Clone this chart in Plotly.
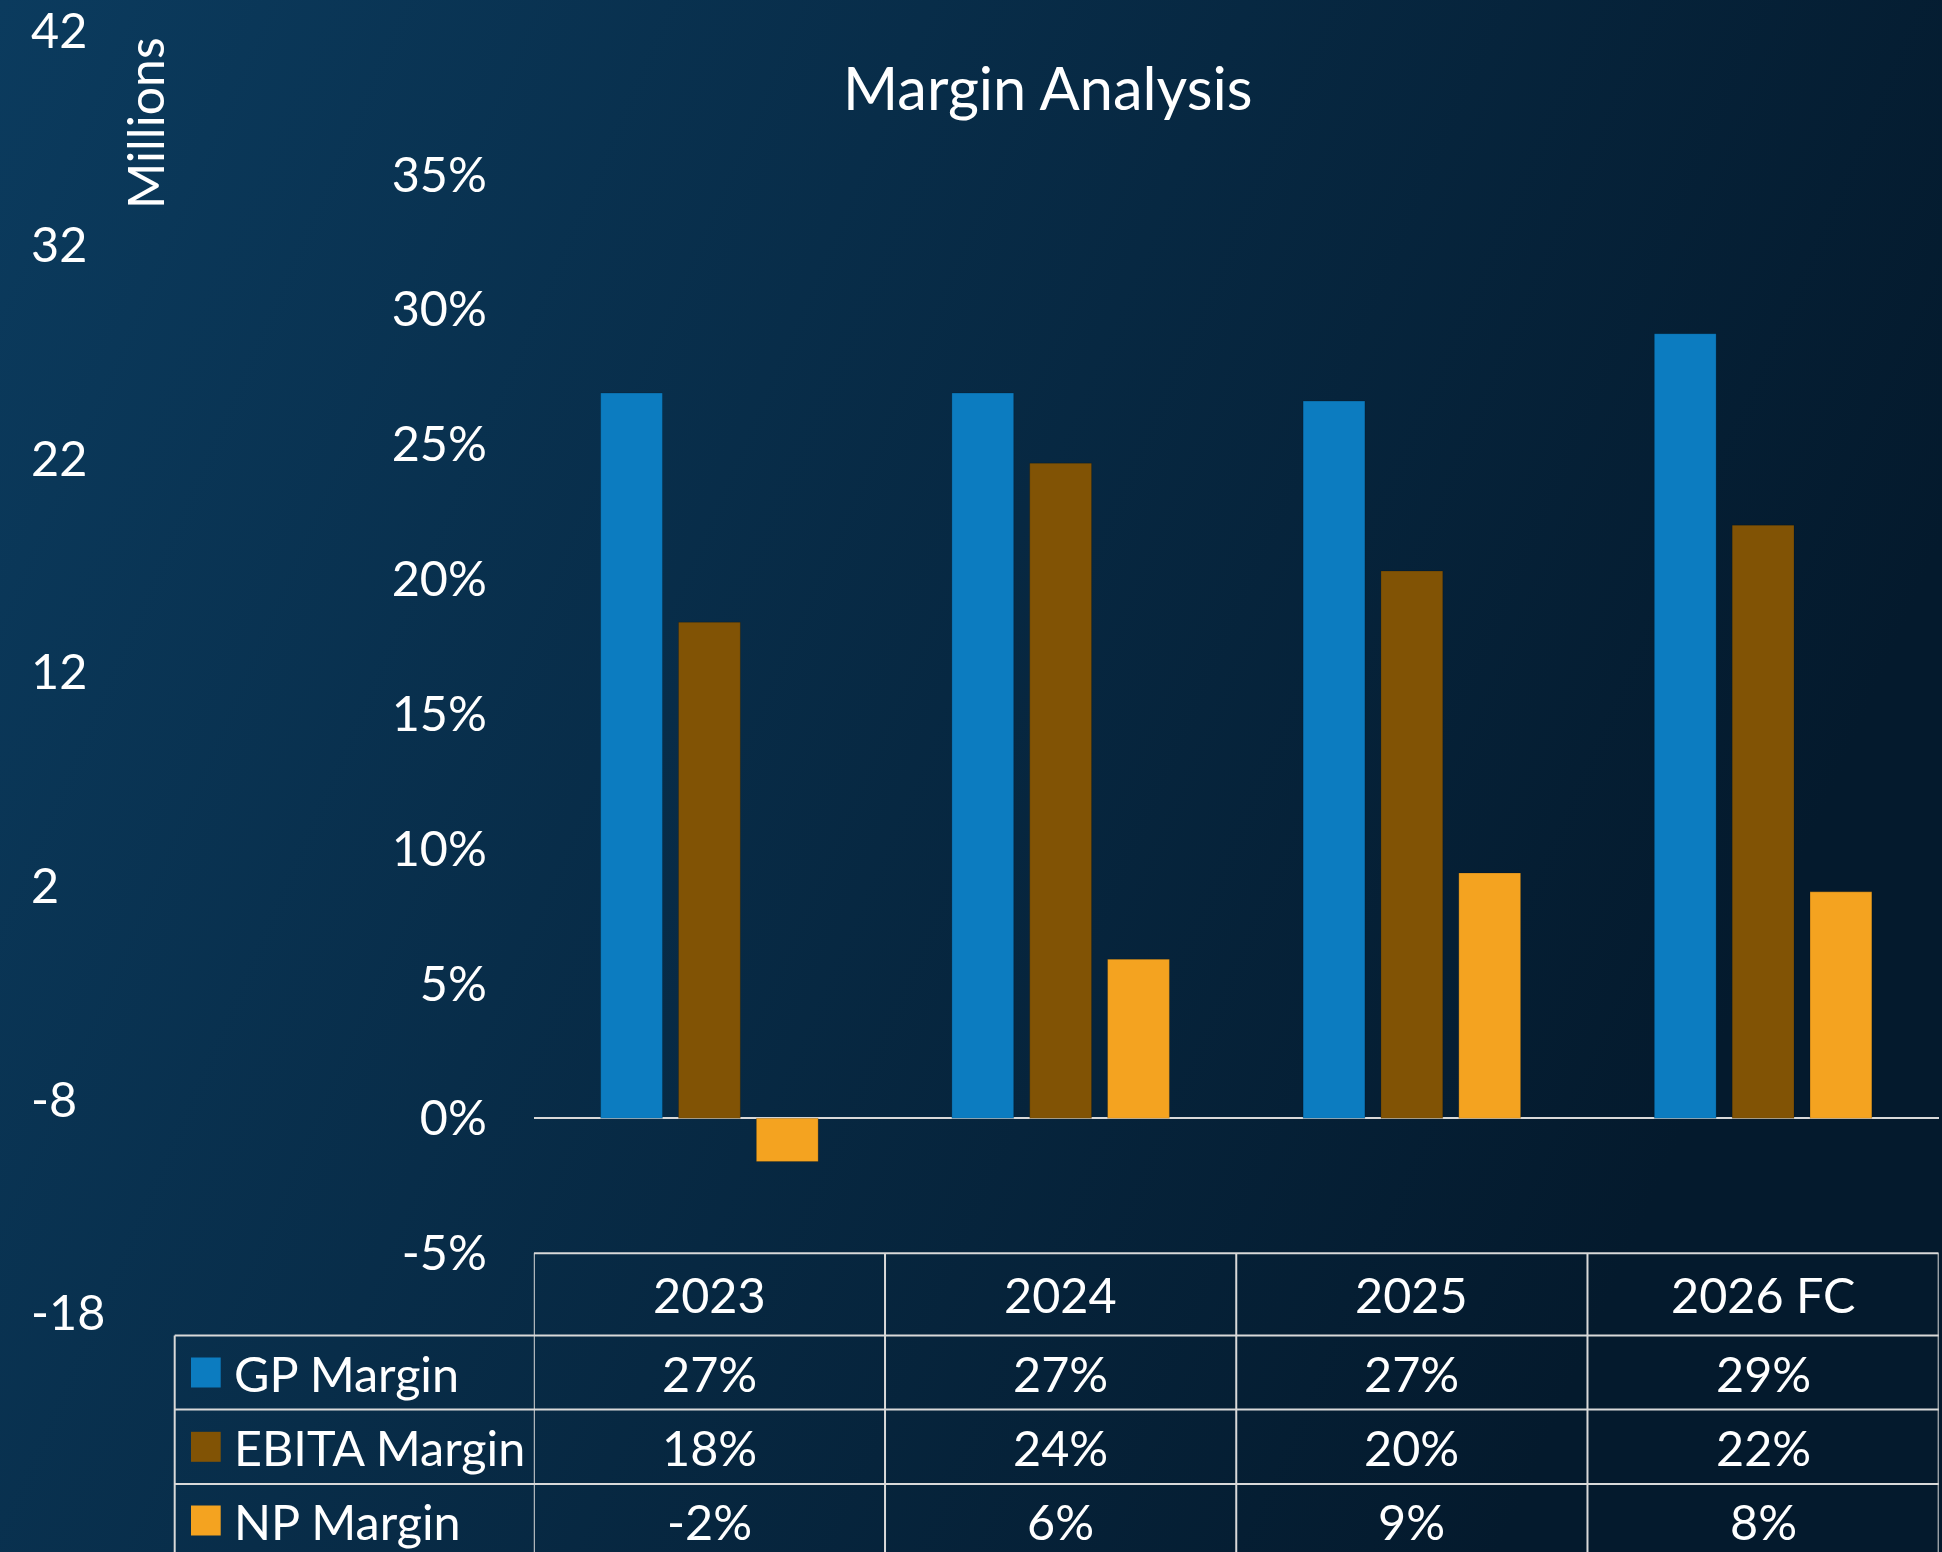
import base64
import plotly.graph_objects as go

# ---- data ----
categories = ["2023", "2024", "2025", "2026 FC"]
series_names = ["GP Margin", "EBITA Margin", "NP Margin"]
gp_margin = [26.9, 26.9, 26.6, 29.1]
ebita_margin = [18.4, 24.3, 20.3, 22.0]
np_margin = [-1.6, 5.9, 9.1, 8.4]
pct_ticks = [-5, 0, 5, 10, 15, 20, 25, 30, 35]
millions_ticks = [-18, -8, 2, 12, 22, 32, 42]
title_text = "Margin Analysis"
millions_label = "Millions"

colors = ["#0c7cc0", "#815305", "#f4a320"]
series_values = [gp_margin, ebita_margin, np_margin]

W, H = 1942, 1552
FONT = "Lato, 'Open Sans', sans-serif"
TXT = 48.5
LINE = "#d9d9d9"


def px_x(v):
    return v / W


def px_y(v):
    return 1 - v / H


fig = go.Figure()
for name, vals, col in zip(series_names, series_values, colors):
    fig.add_trace(go.Bar(
        x=categories, y=vals, name=name,
        marker=dict(color=col, line=dict(color="rgba(0,0,0,0.18)", width=1)),
        showlegend=False, hovertemplate="%{x}: %{y:.1f}%<extra>" + name + "</extra>",
    ))

# dummy trace for the secondary "Millions" axis
fig.add_trace(go.Scatter(x=[0, 0], y=[millions_ticks[0], millions_ticks[-1]],
                         xaxis="x2", yaxis="y2", mode="lines",
                         line=dict(width=0, color="rgba(0,0,0,0)"),
                         showlegend=False, hoverinfo="skip"))

plot_x0, plot_x1 = px_x(533.8), px_x(1938.7)
fig.update_layout(
    width=W, height=H,
    margin=dict(l=0, r=0, t=0, b=0, autoexpand=False),
    paper_bgcolor="#07263f",
    plot_bgcolor="rgba(0,0,0,0)",
    barmode="group", bargap=0.335, bargroupgap=0.206,
    font=dict(family=FONT, color="white", size=TXT),
    xaxis=dict(domain=[plot_x0, plot_x1], range=[-0.5, 3.5], type="category",
               showticklabels=False, showgrid=False, zeroline=False, showline=False,
               ticks="", fixedrange=True, automargin=False),
    yaxis=dict(domain=[px_y(1253.2), px_y(174.6)], range=[pct_ticks[0], pct_ticks[-1]],
               tickvals=pct_ticks, ticktext=[f"{v}%" for v in pct_ticks], showgrid=False,
               zeroline=True, zerolinecolor=LINE, zerolinewidth=2,
               showline=False, ticks="", ticklabelstandoff=46, automargin=False,
               ticklabeloverflow="allow",
               tickfont=dict(size=TXT, color="white"), fixedrange=True),
    xaxis2=dict(domain=[0, 0.01], visible=False, anchor="y2", fixedrange=True, automargin=False),
    yaxis2=dict(domain=[px_y(1313.5), px_y(31.5)], range=[millions_ticks[0], millions_ticks[-1]],
                tickvals=millions_ticks, ticktext=[str(v) for v in millions_ticks],
                anchor="free", position=px_x(30), side="right", automargin=False,
                ticklabeloverflow="allow",
                showgrid=False, zeroline=False, showline=False, ticks="",
                tickfont=dict(size=TXT, color="white"), fixedrange=True),
)

# background gradient
svg = ('<svg xmlns="http://www.w3.org/2000/svg" width="1942" height="1552" preserveAspectRatio="none">'
       '<defs><linearGradient id="g" x1="0" y1="0" x2="1" y2="0.35">'
       '<stop offset="0" stop-color="#0b3b5e"/><stop offset="1" stop-color="#041a2d"/>'
       '</linearGradient></defs><rect width="100%" height="100%" fill="url(#g)"/></svg>')
uri = "data:image/svg+xml;base64," + base64.b64encode(svg.encode()).decode()
fig.add_layout_image(dict(source=uri, xref="paper", yref="paper", x=0, y=1,
                          sizex=1, sizey=1, xanchor="left", yanchor="top",
                          sizing="stretch", layer="below"))

# title and Millions label
fig.add_annotation(text=title_text, x=px_x(1047), y=px_y(87), xref="paper", yref="paper",
                   showarrow=False, font=dict(size=59.5, color="white"),
                   xanchor="center", yanchor="middle")
fig.add_annotation(text=millions_label, x=px_x(145), y=px_y(123), xref="paper", yref="paper",
                   showarrow=False, textangle=-90, font=dict(size=50, color="white"),
                   xanchor="center", yanchor="middle")

# ---- data table ----
header_top = 1253.3
row_lines = [1335.5, 1409.5, 1484.0]
row_centers = [1372.5, 1446.8, 1520.5]
table_left = 174.7
line_style = dict(color=LINE, width=2)

# vertical column lines (category boundaries on the x axis)
for i in range(len(categories) + 1):
    fig.add_shape(type="line", xref="x", yref="paper", x0=i - 0.5, x1=i - 0.5,
                  y0=0, y1=px_y(header_top), line=line_style, layer="above")
# table left border
fig.add_shape(type="line", xref="paper", yref="paper", x0=px_x(table_left), x1=px_x(table_left),
              y0=0, y1=px_y(row_lines[0]), line=line_style)
# header top
fig.add_shape(type="line", xref="x", yref="paper", x0=-0.5, x1=len(categories) - 0.5,
              y0=px_y(header_top), y1=px_y(header_top), line=line_style)
# row lines
for yl in row_lines:
    fig.add_shape(type="line", xref="paper", yref="paper", x0=px_x(table_left), x1=plot_x1,
                  y0=px_y(yl), y1=px_y(yl), line=line_style)

# header labels (category index on the x axis)
for i, c in enumerate(categories):
    fig.add_annotation(text=c, x=i, xref="x", y=px_y(1294), yref="paper",
                       showarrow=False, font=dict(size=TXT, color="white"),
                       xanchor="center", yanchor="middle")

# rows
for name, vals, col, yc in zip(series_names, series_values, colors, row_centers):
    fig.add_shape(type="rect", xref="paper", yref="paper",
                  x0=px_x(191), x1=px_x(220.7), y0=px_y(yc + 15), y1=px_y(yc - 15),
                  fillcolor=col, line=dict(width=0))
    fig.add_annotation(text=name, x=px_x(232), y=px_y(yc), xref="paper", yref="paper",
                       showarrow=False, font=dict(size=TXT, color="white"),
                       xanchor="left", yanchor="middle")
    for i, v in enumerate(vals):
        fig.add_annotation(text=f"{round(v):.0f}%", x=i, xref="x", y=px_y(yc), yref="paper",
                           showarrow=False, font=dict(size=TXT, color="white"),
                           xanchor="center", yanchor="middle")

fig.write_html("out.html", config={"displayModeBar": False},
               post_script="document.body.style.margin='0';document.body.style.overflow='hidden';")
